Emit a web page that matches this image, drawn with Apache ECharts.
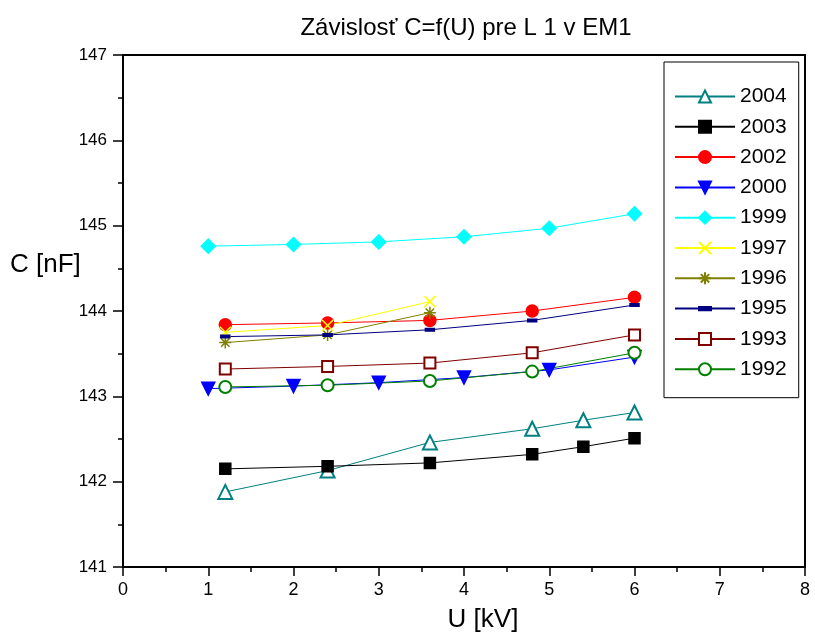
<!DOCTYPE html>
<html>
<head>
<meta charset="utf-8">
<script src="https://cdn.jsdelivr.net/npm/echarts@6/dist/echarts.min.js"></script>
<style>
  html, body { margin: 0; padding: 0; background: #fff; }
  #chart { width: 815px; height: 635px; }
</style>
</head>
<body>
<div id="chart"></div>
<script>
// U [kV] positions used by the different measurement years
const uSix = [1.2, 2.4, 3.6, 4.8, 5.4, 6.0];
const uFive = [1.2, 2.4, 3.6, 4.8, 6.0];
const uInt = [1, 2, 3, 4, 5, 6];
const uThree = [1.2, 2.4, 3.6];

// C [nF] per year
const c2004 = [141.88, 142.13, 142.46, 142.62, 142.72, 142.81];
const c2003 = [142.15, 142.18, 142.22, 142.32, 142.41, 142.51];
const c2002 = [143.84, 143.86, 143.89, 144.00, 144.16];
const c2000 = [143.09, 143.12, 143.16, 143.22, 143.31, 143.46];
const c1999 = [144.76, 144.78, 144.81, 144.87, 144.97, 145.14];
const c1997 = [143.75, 143.83, 144.11];
const c1996 = [143.63, 143.72, 143.98];
const c1995 = [143.70, 143.72, 143.78, 143.89, 144.07];
const c1993 = [143.32, 143.35, 143.39, 143.51, 143.72];
const c1992 = [143.11, 143.13, 143.18, 143.29, 143.51];

const xTicks = [0, 1, 2, 3, 4, 5, 6, 7, 8];
const yTicks = [141, 142, 143, 144, 145, 146, 147];

const FONT = "'Liberation Sans', Arial, sans-serif";

const crossPath = 'path://M0,0L10,10M10,0L0,10';
const starPath = 'path://M5,0L5,10M0,5L10,5M1.5,1.5L8.5,8.5M8.5,1.5L1.5,8.5';
// short bar inside a square box, so it keeps its shape in the legend too
const dashPath = 'path://M0,0M10,10M0,3.6L10,3.6L10,6.4L0,6.4Z';

function pairs(xs, ys) {
  return xs.map((x, i) => [x, ys[i]]);
}

function line(name, xs, ys, color, symbol, size, extra) {
  let s = {
    name: name,
    type: 'line',
    data: pairs(xs, ys),
    symbol: symbol,
    symbolSize: size,
    showAllSymbol: true,
    lineStyle: { color: color, width: 1 },
    itemStyle: { color: color, borderColor: color, borderWidth: 1.5 },
    emphasis: { disabled: true },
    animation: false
  };
  return Object.assign(s, extra || {});
}

let chart = echarts.init(document.getElementById('chart'));

chart.setOption({
  backgroundColor: '#fff',
  title: {
    text: 'Závislosť C=f(U) pre L 1 v EM1',
    left: 461,
    top: 11,
    textAlign: 'center',
    textStyle: { fontFamily: FONT, fontSize: 24, fontWeight: 'normal', color: '#000' }
  },
  // y axis name sits well above the middle of the axis, so it is placed by hand
  graphic: [{
    type: 'text',
    left: 10,
    top: 252,
    style: { text: 'C [nF]', font: '26px ' + FONT, fill: '#000' }
  }],
  grid: {
    left: 123, right: 10, top: 55, bottom: 68,
    outerBoundsMode: 'none',
    containLabel: false,
    show: true, borderColor: '#000', borderWidth: 2, backgroundColor: '#fff'
  },
  legend: {
    orient: 'vertical',
    left: 664,
    top: 62,
    padding: [24, 12, 18, 10],
    itemWidth: 60,
    itemHeight: 15,
    itemGap: 9.3,
    backgroundColor: '#fff',
    borderColor: '#000',
    borderWidth: 1,
    textStyle: { fontFamily: FONT, fontSize: 21, color: '#000' },
    data: ['2004', '2003', '2002', '2000', '1999', '1997', '1996', '1995', '1993', '1992']
  },
  xAxis: {
    type: 'value',
    min: xTicks[0],
    max: xTicks[xTicks.length - 1],
    interval: 1,
    name: 'U [kV]',
    nameLocation: 'middle',
    nameGap: 40,
    nameTextStyle: { fontFamily: FONT, fontSize: 26, color: '#000', padding: [0, 0, 0, 38] },
    axisLine: { onZero: false, lineStyle: { color: '#000', width: 2 } },
    axisTick: { length: 9, lineStyle: { width: 1.5 } },
    minorTick: { show: true, splitNumber: 2, length: 5, lineStyle: { color: '#000', width: 1.5 } },
    splitLine: { show: false },
    axisLabel: { margin: 14, fontFamily: FONT, fontSize: 18, color: '#000' }
  },
  yAxis: {
    type: 'value',
    min: yTicks[0],
    max: yTicks[yTicks.length - 1],
    interval: 1,
    axisLine: { onZero: false, lineStyle: { color: '#000', width: 2 } },
    axisTick: { length: 10, lineStyle: { width: 1.5 } },
    minorTick: { show: true, splitNumber: 2, length: 5, lineStyle: { color: '#000', width: 1.5 } },
    splitLine: { show: false },
    axisLabel: { margin: 16, fontFamily: FONT, fontSize: 17, color: '#000' }
  },
  series: [
    line('2004', uSix, c2004, '#008080', 'emptyTriangle', 14),
    line('2003', uSix, c2003, '#000000', 'rect', 11),
    line('2002', uFive, c2002, '#ff0000', 'circle', 12),
    line('2000', uInt, c2000, '#0000ff', 'triangle', 13, { symbolRotate: 180 }),
    line('1999', uInt, c1999, '#00ffff', 'diamond', 14),
    line('1997', uThree, c1997, '#ffff00', crossPath, 11),
    line('1996', uThree, c1996, '#808000', starPath, 12),
    line('1995', uFive, c1995, '#000080', dashPath, 9),
    line('1993', uFive, c1993, '#800000', 'emptyRect', 11),
    line('1992', uFive, c1992, '#008000', 'emptyCircle', 12)
  ]
});
</script>
</body>
</html>
